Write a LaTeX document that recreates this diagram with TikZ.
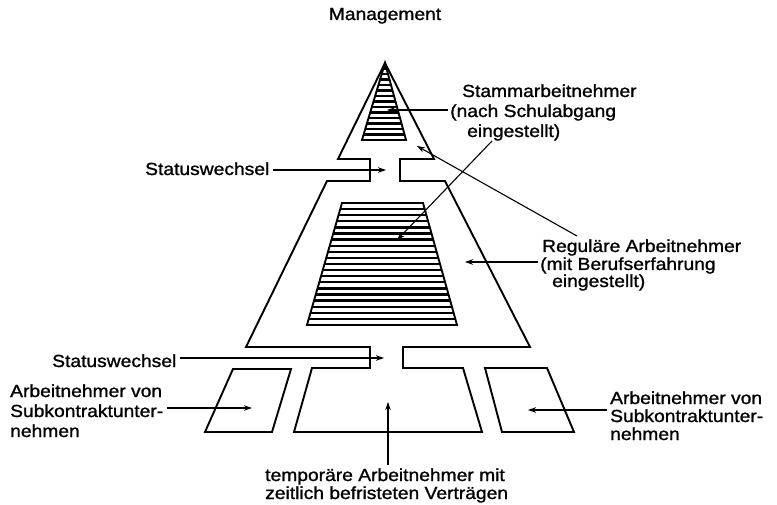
\documentclass[tikz,border=0pt]{standalone}
\usepackage{fontspec}
\setmainfont{Liberation Sans}[FakeStretch=1.1,FakeBold=1.2]
\usetikzlibrary{arrows.meta}
\begin{document}
\begin{tikzpicture}[x=1pt,y=-1pt,
  outline/.style={line width=1.9pt, line join=miter},
  hatchline/.style={line width=2.3pt},
  arr/.style={line width=1.1pt, -{Stealth[length=8pt,width=5.5pt]}},
  lbl/.style={inner sep=0pt, anchor=base west, font=\fontsize{17.5}{20}\selectfont},
]
\useasboundingbox (0,0) rectangle (777,505);

% main outline: triangle with cut band and bottom trapezoid
\draw[outline] (385,63) -- (434,159) -- (400,159) -- (400,181) -- (445,181)
  -- (530,347) -- (403,347) -- (403,368) -- (463,368) -- (482,432) -- (294,432)
  -- (312,368) -- (370,368) -- (370,347) -- (246,347) -- (327,181) -- (370,181)
  -- (370,159) -- (338,159) -- cycle;

% side parallelograms
\draw[outline] (233,369) -- (291,369) -- (272,432) -- (205,432) -- cycle;
\draw[outline] (485,368) -- (547,368) -- (574,432) -- (502,432) -- cycle;

% hatched top triangle
\begin{scope}
  \clip (385,63) -- (407,141) -- (361,141) -- cycle;
  \foreach \k in {0,...,13} \draw[hatchline] (350,{140-\k*5.5}) -- (420,{140-\k*5.5});
\end{scope}
\draw[outline] (385,63) -- (406,140) -- (362,140) -- cycle;

% hatched middle trapezoid
\begin{scope}
  \clip (342,203) -- (423,203) -- (457,325) -- (307,325) -- cycle;
  \foreach \k in {0,...,20} \draw[hatchline] (300,{203+\k*6.1}) -- (460,{203+\k*6.1});
\end{scope}
\draw[outline] (342,203) -- (423,203) -- (457,325) -- (307,325) -- cycle;

% labels
\node[lbl, anchor=base] (mgmt) at (385,20) {Management};
\node[lbl] (stamm1) at (462,97) {Stammarbeitnehmer};
\node[lbl] (stamm2) at (450,117) {(nach Schulabgang};
\node[lbl] (stamm3) at (467,137) {eingestellt)};
\node[lbl] (sw1) at (145,175) {Statuswechsel};
\node[lbl] (sw2) at (52,367) {Statuswechsel};
\node[lbl] (reg1) at (542,252) {Reguläre Arbeitnehmer};
\node[lbl] (reg2) at (540,270) {(mit Berufserfahrung};
\node[lbl] (reg3) at (552,287) {eingestellt)};
\node[lbl] (subl1) at (10,397) {Arbeitnehmer von};
\node[lbl] (subl2) at (10,417) {Subkontraktunter-};
\node[lbl] (subl3) at (10,437) {nehmen};
\node[lbl] (subr1) at (610,404) {Arbeitnehmer von};
\node[lbl] (subr2) at (610,422) {Subkontraktunter-};
\node[lbl] (subr3) at (610,440) {nehmen};
\node[lbl] (temp1) at (265,481) {temporäre Arbeitnehmer mit};
\node[lbl] (temp2) at (265,499) {zeitlich befristeten Verträgen};

% arrow ends
\coordinate (t1) at (386,170);
\coordinate (t2) at (384,358);
\coordinate (t3) at (387,110);
\coordinate (s4) at (492,141);
\coordinate (t4) at (397,240);
\coordinate (s5) at (577,236);
\coordinate (t5) at (417,146);
\coordinate (t6) at (465,262);
\coordinate (t7) at (252,408);
\coordinate (t8) at (528,410);
\coordinate (t9) at (388,402);

% connectors
\draw[arr, shorten <=3pt] (sw1.east |- t1) -- (t1);
\draw[arr, shorten <=3pt] (sw2.east |- t2) -- (t2);
\draw[arr, shorten <=2pt] (stamm2.west |- t3) -- (t3);
\draw[arr] (s4) -- (t4);
\draw[arr] (s5) -- (t5);
\draw[arr, shorten <=2pt] (reg2.west |- t6) -- (t6);
\draw[arr, shorten <=4pt] (subl2.east |- t7) -- (t7);
\draw[arr, shorten <=3pt] (subr2.west |- t8) -- (t8);
\draw[arr, shorten <=3pt] (temp1.north -| t9) -- (t9);
\end{tikzpicture}
\end{document}
